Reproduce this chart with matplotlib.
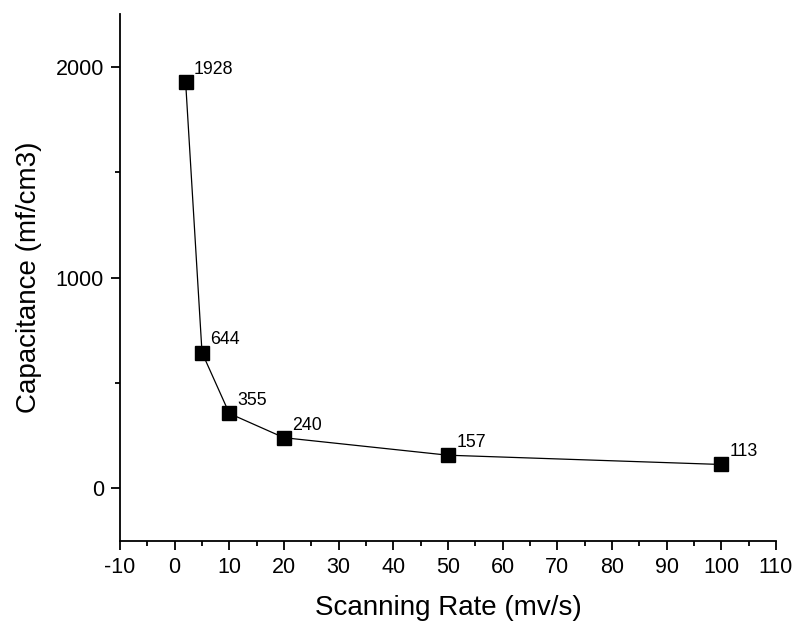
import matplotlib
matplotlib.use("Agg")
import matplotlib.pyplot as plt
from matplotlib.ticker import MultipleLocator

plt.rcParams['font.family'] = ['Liberation Sans', 'DejaVu Sans']
plt.rcParams['axes.unicode_minus'] = False

rate = [2, 5, 10, 20, 50, 100]
capacitance = [1928, 644, 355, 240, 157, 113]
labels = ["1928", "644", "355", "240", "157", "113"]

fig = plt.figure(figsize=(7.98, 6.29), dpi=100)
ax = fig.add_axes([0.1504, 0.1399, 0.822, 0.8378])

ax.plot(rate, capacitance, color='black', linewidth=0.9, zorder=2)
ax.plot(rate, capacitance, linestyle='none', marker='s', markersize=9.5,
        color='black', zorder=3)
for x, y, t in zip(rate, capacitance, labels):
    ax.annotate(t, (x, y), xytext=(6, 3), textcoords='offset points',
                fontsize=12.8, ha='left', va='bottom')

ax.set_xlim(-10, 110)
ax.set_ylim(-250, 2250)
ax.xaxis.set_major_locator(MultipleLocator(10))
ax.xaxis.set_minor_locator(MultipleLocator(5))
ax.yaxis.set_major_locator(MultipleLocator(1000))
ax.yaxis.set_minor_locator(MultipleLocator(500))

for s in ['top', 'right']:
    ax.spines[s].set_visible(False)
for s in ['left', 'bottom']:
    ax.spines[s].set_linewidth(1.3)

ax.tick_params(which='major', direction='out', length=6.5, width=1.3,
               labelsize=15.5, pad=5)
ax.tick_params(which='minor', direction='out', length=3.5, width=1.3)

ax.set_xlabel('Scanning Rate (mv/s)', fontsize=20, labelpad=12)
ax.set_ylabel('Capacitance (mf/cm3)', fontsize=20, labelpad=10)

fig.savefig('out.png', dpi=100)
